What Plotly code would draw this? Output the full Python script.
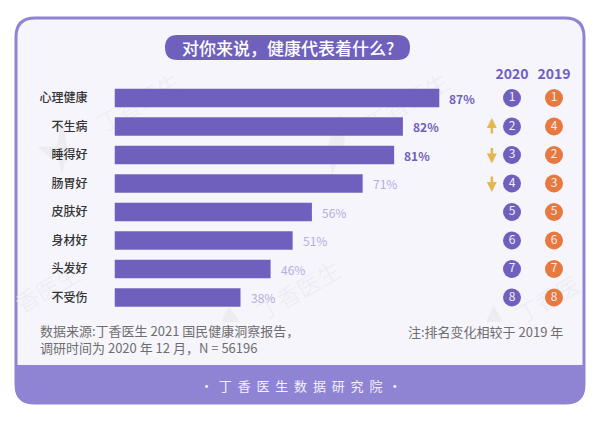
import plotly.graph_objects as go

categories = ["心理健康", "不生病", "睡得好", "肠胃好", "皮肤好", "身材好", "头发好", "不受伤"]
shares = [87, 82, 81, 71, 56, 51, 46, 38]
# bar lengths as drawn in the picture (they are not strictly proportional to the printed shares)
drawn_lengths = [92.8, 82.4, 79.9, 70.9, 56.4, 50.9, 44.6, 36.0]
rank_2020 = [1, 2, 3, 4, 5, 6, 7, 8]
rank_2019 = [1, 4, 2, 3, 5, 6, 7, 8]
years = ["2020", "2019"]
title = "对你来说，健康代表着什么?"
source_lines = ["数据来源:丁香医生 2021 国民健康洞察报告，", "调研时间为 2020 年 12 月，N = 56196"]
note = "注:排名变化相较于 2019 年"
footer = "· 丁 香 医 生 数 据 研 究 院 ·"

W, H = 600, 423
PURPLE, BAND, CARD = "#7060bd", "#8f84d3", "#f6f5fc"
ORANGE, GOLD, FONT = "#e5793f", "#e3b84e", "Noto Sans CJK SC"
WM = "#ececf1"


def px(x):
    return x / W


def py(y):
    return 1 - y / H


def path(points):
    out = []
    for p in points:
        if isinstance(p, str):
            out.append(p)
        else:
            out.append(f"{px(p[0]):.5f},{py(p[1]):.5f}")
    return " ".join(out)


def rounded(x0, y0, x1, y1, rt, rb):
    return path(["M", (x0 + rt, y0), "L", (x1 - rt, y0), "Q", (x1, y0), (x1, y0 + rt),
                 "L", (x1, y1 - rb), "Q", (x1, y1), (x1 - rb, y1),
                 "L", (x0 + rb, y1), "Q", (x0, y1), (x0, y1 - rb),
                 "L", (x0, y0 + rt), "Q", (x0, y0), (x0 + rt, y0), "Z"])


shapes = [
    dict(type="path", xref="paper", yref="paper", path=rounded(16, 18, 584, 403, 19, 19),
         fillcolor=CARD, line=dict(color=BAND, width=3), layer="below"),
]

# watermark: leaf marks
leaves = [
    [(62, 120), (68, 150), (62, 175), (56, 150)],
    [(38, 147), (58, 146), (68, 162), (50, 158)],
    [(340, 113), (345, 140), (332, 175), (328, 145)],
    [(229, 307), (240, 322), (222, 322), (224, 315)],
    [(494, 306), (503, 322), (486, 322), (489, 315)],
]
for lf in leaves:
    shapes.append(dict(type="path", xref="paper", yref="paper", layer="below",
                       path=path(["M", lf[0], "L", lf[1], "L", lf[2], "L", lf[3], "Z"]),
                       fillcolor=WM, line=dict(width=0)))

# watermark: rotated words, kept under the bars
marks = [("丁香医生", 140, 105), ("丁香医生", 408, 105), ("香医生", 49, 291),
         ("丁香医生", 300, 293), ("丁香医", 549, 302)]
for word, cx, cy in marks:
    shapes.append(dict(type="rect", xref="paper", yref="paper", layer="below",
                       x0=px(cx - 2), x1=px(cx + 2), y0=py(cy + 2), y1=py(cy - 2),
                       line=dict(width=0), fillcolor="rgba(0,0,0,0)",
                       label=dict(text=word, textangle=-30, textposition="middle center",
                                  font=dict(family=FONT, size=23, color=WM, weight=300))))

# footer band and title pill
shapes.append(dict(type="path", xref="paper", yref="paper", layer="below",
                   path=path(["M", (15, 365), "L", (585, 365), "L", (585, 386), "Q", (585, 404), (567, 404),
                              "L", (33, 404), "Q", (15, 404), (15, 386), "Z"]),
                   fillcolor=BAND, line=dict(width=0)))
shapes.append(dict(type="path", xref="paper", yref="paper", layer="below",
                   path=rounded(165, 35, 410, 60, 12.5, 12.5), fillcolor=PURPLE, line=dict(width=0)))

fig = go.Figure()
fig.add_trace(go.Bar(x=drawn_lengths, y=categories, orientation="h", marker=dict(color=PURPLE, line=dict(width=0)),
                     xaxis="x", yaxis="y", hoverinfo="skip", showlegend=False))
for year, ranks, color in zip(years, [rank_2020, rank_2019], [PURPLE, ORANGE]):
    fig.add_trace(go.Scatter(x=[year] * len(categories), y=categories, mode="markers+text",
                             text=[str(r) for r in ranks], textposition="middle center",
                             textfont=dict(family=FONT, size=12, color="#f6ecf0"),
                             marker=dict(size=18, color=color, line=dict(width=0)),
                             xaxis="x2", yaxis="y", hoverinfo="skip", showlegend=False))

ann = []
for i, (cat, s, d) in enumerate(zip(categories, shares, drawn_lengths)):
    top = i < 3
    ann.append(dict(x=d, y=cat, xref="x", yref="y", text=f"<b>{s}%</b>" if top else f"{s}%", showarrow=False,
                    xanchor="left", yanchor="middle", xshift=8,
                    font=dict(family=FONT, size=12, color=PURPLE if top else "#b5aedd")))

for cat, now, before in zip(categories, rank_2020, rank_2019):
    if now != before:
        up = now < before
        ann.append(dict(x=-0.48, y=cat, xref="x2", yref="y", text="", showarrow=True, arrowhead=2, arrowsize=0.8,
                        arrowwidth=2.5, arrowcolor=GOLD, ax=0, ay=17 if up else -17, yshift=8.5 if up else -8.5,
                        standoff=0, startstandoff=0))

ann.append(dict(x=px(287.5), y=py(47.5), xref="paper", yref="paper", text=title, showarrow=False,
                xanchor="center", yanchor="middle", font=dict(family=FONT, size=17, color="#ffffff", weight=500)))
ann.append(dict(x=px(38), y=py(339), xref="paper", yref="paper", text="<br>".join(source_lines), showarrow=False,
                xanchor="left", yanchor="middle", align="left", font=dict(family=FONT, size=13, color="#6e6e6e")))
ann.append(dict(x=px(565), y=py(331), xref="paper", yref="paper", text=note, showarrow=False, xanchor="right",
                yanchor="middle", font=dict(family=FONT, size=13, color="#6e6e6e")))
ann.append(dict(x=0.5, y=py(385), xref="paper", yref="paper", text=footer.replace(" ", "\u00a0\u00a0"), showarrow=False,
                xanchor="center", yanchor="middle", font=dict(family=FONT, size=13, color="#f3f1fb")))

fig.update_layout(
    width=W, height=H, margin=dict(l=0, r=0, t=0, b=0), paper_bgcolor="#ffffff", plot_bgcolor="rgba(0,0,0,0)",
    bargap=0.35, showlegend=False, shapes=shapes, annotations=ann,
    xaxis=dict(domain=[px(114.5), px(464.5)], range=[0, 100], visible=False, fixedrange=True),
    xaxis2=dict(domain=[px(491), px(575)], type="category", categoryorder="array", categoryarray=years,
                range=[-0.5, 1.5], side="top", anchor="y", showgrid=False, showline=False, zeroline=False, ticks="",
                ticklabelstandoff=1,
                tickfont=dict(family=FONT, size=14, color=PURPLE, weight=700), fixedrange=True),
    yaxis=dict(domain=[py(311.75), py(83.75)], type="category", categoryorder="array", categoryarray=categories,
               range=[7.5, -0.5], anchor="x", showgrid=False, showline=False, zeroline=False, ticks="",
               ticklabelstandoff=26, tickfont=dict(family=FONT, size=12, color="#333333", weight=500), fixedrange=True),
)
fig.write_html("out.html", config=dict(displayModeBar=False),
               post_script="document.body.style.margin='0';document.body.style.overflow='hidden';")
